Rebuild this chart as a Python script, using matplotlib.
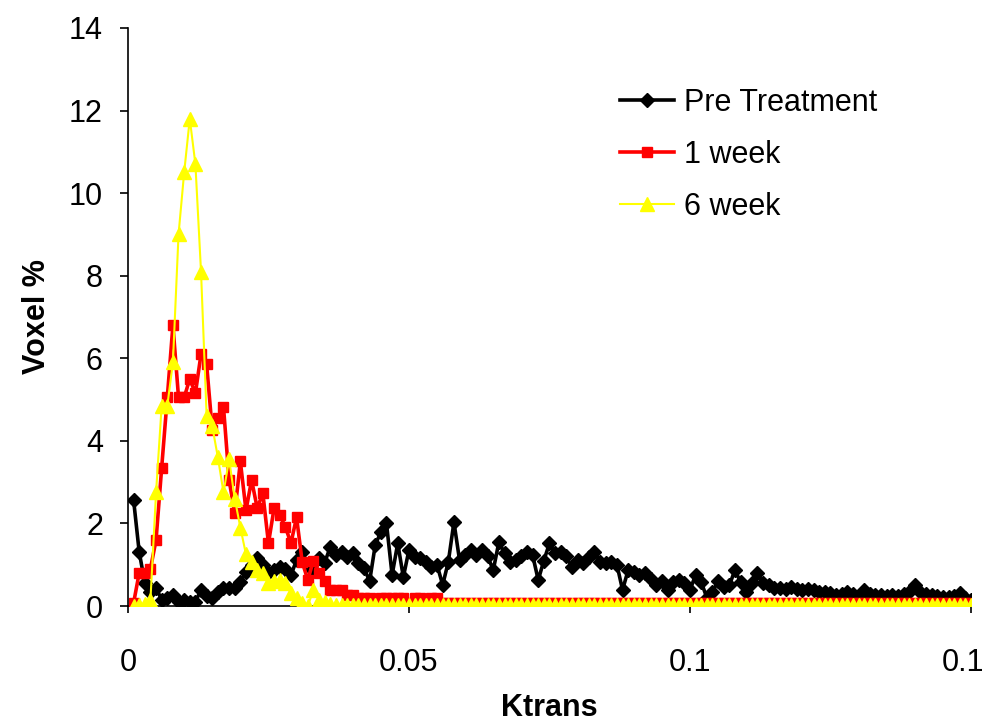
import matplotlib
matplotlib.use("Agg")
import matplotlib.pyplot as plt
from matplotlib.ticker import FuncFormatter

plt.rcParams["font.family"] = ["Liberation Sans", "DejaVu Sans"]

# Ktrans bins (0.001 wide)
ktrans = [k / 1000 for k in range(1, 151)]

pre_treatment = [
    2.57, 1.31, 0.56, 0.34, 0.44, 0.15, 0.2, 0.27, 0.1, 0.15,
    0.1, 0.1, 0.39, 0.25, 0.19, 0.34, 0.44, 0.44, 0.44, 0.58,
    0.82, 0.99, 1.16, 0.99, 0.8, 0.87, 0.94, 0.9, 0.75, 1.11,
    1.31, 0.99, 0.87, 1.16, 1.05, 1.43, 1.23, 1.31, 1.19, 1.28,
    1.04, 0.92, 0.6, 1.48, 1.79, 2.0, 0.75, 1.52, 0.7, 1.36,
    1.19, 1.16, 1.07, 0.94, 0.99, 0.51, 1.07, 2.03, 1.11, 1.23,
    1.36, 1.23, 1.36, 1.2, 0.87, 1.55, 1.28, 1.07, 1.11, 1.2,
    1.31, 1.23, 0.63, 1.1, 1.52, 1.28, 1.31, 1.2, 0.94, 1.11,
    1.04, 1.19, 1.31, 1.07, 1.04, 1.07, 1.0, 0.39, 0.87, 0.82,
    0.75, 0.8, 0.65, 0.51, 0.6, 0.39, 0.58, 0.63, 0.55, 0.39,
    0.75, 0.58, 0.2, 0.34, 0.6, 0.45, 0.5, 0.87, 0.58, 0.35,
    0.55, 0.8, 0.55, 0.51, 0.44, 0.44, 0.4, 0.46, 0.4, 0.39,
    0.4, 0.39, 0.35, 0.35, 0.31, 0.27, 0.3, 0.35, 0.3, 0.25,
    0.39, 0.3, 0.27, 0.27, 0.25, 0.27, 0.25, 0.3, 0.35, 0.51,
    0.34, 0.3, 0.27, 0.25, 0.22, 0.22, 0.25, 0.31, 0.2, 0.15,
]

week1 = [
    0.07, 0.8, 0.8, 0.9, 1.6, 3.35, 5.05, 6.8, 5.05, 5.05,
    5.5, 5.15, 6.1, 5.85, 4.26, 4.55, 4.82, 3.05, 2.25, 3.5,
    2.32, 3.05, 2.37, 2.73, 1.52, 2.37, 2.2, 1.92, 1.52, 2.15,
    1.07, 0.63, 1.1, 0.8, 0.6, 0.39, 0.39, 0.39, 0.27, 0.27,
    0.2, 0.2, 0.2, 0.1, 0.2, 0.2, 0.2, 0.2, 0.2, 0.07,
    0.2, 0.2, 0.07, 0.2, 0.2, 0.07, 0.07, 0.07, 0.07, 0.07,
    0.07, 0.07, 0.07, 0.07, 0.07, 0.07, 0.07, 0.07, 0.07, 0.07,
    0.07, 0.07, 0.07, 0.07, 0.07, 0.07, 0.07, 0.07, 0.07, 0.07,
    0.07, 0.07, 0.07, 0.07, 0.07, 0.07, 0.07, 0.07, 0.07, 0.07,
    0.07, 0.07, 0.07, 0.07, 0.07, 0.07, 0.07, 0.07, 0.07, 0.07,
    0.07, 0.07, 0.07, 0.07, 0.07, 0.07, 0.07, 0.07, 0.07, 0.07,
    0.07, 0.07, 0.07, 0.07, 0.07, 0.07, 0.07, 0.07, 0.07, 0.07,
    0.07, 0.07, 0.07, 0.07, 0.07, 0.07, 0.07, 0.07, 0.07, 0.07,
    0.07, 0.07, 0.07, 0.07, 0.07, 0.07, 0.07, 0.07, 0.07, 0.07,
    0.07, 0.07, 0.07, 0.07, 0.07, 0.07, 0.07, 0.07, 0.07, 0.07,
]

week6 = [
    0.0, 0.02, 0.05, 0.15, 2.75, 4.85, 4.85, 5.9, 9.0, 10.5,
    11.8, 10.7, 8.1, 4.6, 4.35, 3.6, 2.75, 3.55, 2.6, 1.9,
    1.25, 1.07, 0.87, 0.8, 0.56, 0.6, 0.63, 0.56, 0.31, 0.19,
    0.07, 0.0, 0.39, 0.15, 0.1, 0.05, 0.03, 0.03, 0.03, 0.03,
    0.03, 0.03, 0.03, 0.03, 0.03, 0.03, 0.03, 0.03, 0.03, 0.03,
    0.03, 0.03, 0.03, 0.03, 0.03, 0.03, 0.03, 0.03, 0.03, 0.03,
    0.03, 0.03, 0.03, 0.03, 0.03, 0.03, 0.03, 0.03, 0.03, 0.03,
    0.03, 0.03, 0.03, 0.03, 0.03, 0.03, 0.03, 0.03, 0.03, 0.03,
    0.03, 0.03, 0.03, 0.03, 0.03, 0.03, 0.03, 0.03, 0.03, 0.03,
    0.03, 0.03, 0.03, 0.03, 0.03, 0.03, 0.03, 0.03, 0.03, 0.03,
    0.03, 0.03, 0.03, 0.03, 0.03, 0.03, 0.03, 0.03, 0.03, 0.03,
    0.03, 0.03, 0.03, 0.03, 0.03, 0.03, 0.03, 0.03, 0.03, 0.03,
    0.03, 0.03, 0.03, 0.03, 0.03, 0.03, 0.03, 0.03, 0.03, 0.03,
    0.03, 0.03, 0.03, 0.03, 0.03, 0.03, 0.03, 0.03, 0.03, 0.03,
    0.03, 0.03, 0.03, 0.03, 0.03, 0.03, 0.03, 0.03, 0.03, 0.03,
]

x_ticks = [0, 0.05, 0.1, 0.15]
y_ticks = [0, 2, 4, 6, 8, 10, 12, 14]

fig = plt.figure(figsize=(9.82, 7.21), dpi=100)
ax = fig.add_axes([0.1303, 0.1595, 0.8585, 0.8017])

ax.plot(ktrans, pre_treatment, color="black", lw=2.6, marker="D", ms=7.2, label="Pre Treatment")
ax.plot(ktrans, week1, color="#FF0000", lw=2.6, marker="s", ms=7.5, label="1 week")
ax.plot(ktrans, week6, color="#FFFF00", lw=1.5, marker="^", ms=9.5, label="6 week")

ax.set_xlim(0, 0.15)
ax.set_ylim(0, 14)
ax.set_xticks(x_ticks)
ax.set_yticks(y_ticks)
ax.xaxis.set_major_formatter(FuncFormatter(lambda v, p: "%g" % v))

for s in ["top", "right"]:
    ax.spines[s].set_visible(False)
for s in ["left", "bottom"]:
    ax.spines[s].set_linewidth(1.2)
ax.spines["bottom"].set_zorder(0.5)

ax.tick_params(axis="y", direction="out", length=6, width=1.2, pad=12, labelsize=22)
ax.tick_params(axis="x", direction="out", length=5, width=1.2, pad=25, labelsize=22)

ax.set_xlabel("Ktrans", fontsize=22, fontweight="bold", labelpad=11)
ax.set_ylabel("Voxel %", fontsize=22, fontweight="bold", labelpad=12)

ax.legend(loc="upper left", bbox_to_anchor=(0.584, 0.897), frameon=False, fontsize=22,
          handlelength=1.75, handletextpad=0.35, labelspacing=0.72, borderpad=0, borderaxespad=0)

fig.savefig("out.png", dpi=100)
